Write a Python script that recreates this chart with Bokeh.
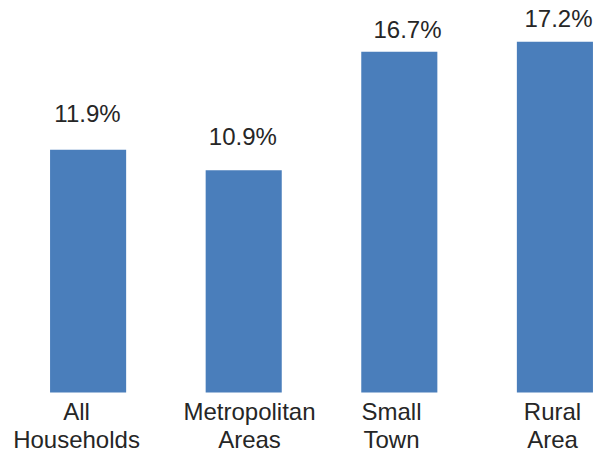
from bokeh.plotting import figure
from bokeh.models import ColumnDataSource, Range1d
from bokeh.core.properties import value
from bokeh.embed import file_html
from bokeh.resources import INLINE

# ---- data ----
categories = ["All\nHouseholds", "Metropolitan\nAreas", "Small\nTown", "Rural\nArea"]
percent = [11.9, 10.9, 16.7, 17.2]

# ---- styles / label nudges (pixels) ----
bar_color = "#4A7EBB"
text_color = "#262626"
font = "Liberation Sans"
val_dx = [-0.6, -0.9, 8.2, 3.6]
val_dy = [-35.9, -33.9, -22.3, -22.8]
cat_dx = [-11.6, 5.8, -7.8, -2.4]

idx = list(range(len(categories)))
line1 = [c.split("\n")[0] for c in categories]
line2 = [c.split("\n")[1] for c in categories]
zeros = [0] * len(categories)

src = ColumnDataSource(dict(
    x=idx, top=percent, zero=zeros,
    label=[f"{v:.1f}%" for v in percent],
    l1=line1, l2=line2,
    vdx=val_dx, vdy=val_dy, cdx=cat_dx,
))

p = figure(width=600, height=454, output_backend="svg", toolbar_location=None,
           x_range=Range1d(-0.563, 3.293), y_range=Range1d(-3.039, 19.216),
           min_border=0, min_border_left=0, min_border_right=0,
           min_border_top=0, min_border_bottom=0)
p.axis.visible = False
p.grid.visible = False
p.outline_line_color = None
p.background_fill_color = "white"
p.border_fill_color = "white"

p.vbar(x="x", top="top", bottom=0, width=0.489, source=src,
       fill_color=bar_color, line_color=None)

p.text(x="x", y="top", text="label", source=src, x_offset="vdx", y_offset="vdy",
       text_align="center", text_baseline="alphabetic",
       text_font=value(font), text_font_size="24px", text_color=text_color)

p.text(x="x", y="zero", text="l1", source=src, x_offset="cdx", y_offset=19,
       text_align="center", text_baseline="alphabetic",
       text_font=value(font), text_font_size="24px", text_color=text_color)
p.text(x="x", y="zero", text="l2", source=src, x_offset="cdx", y_offset=46.5,
       text_align="center", text_baseline="alphabetic",
       text_font=value(font), text_font_size="24px", text_color=text_color)

open("out.html", "w").write(file_html(p, INLINE))
